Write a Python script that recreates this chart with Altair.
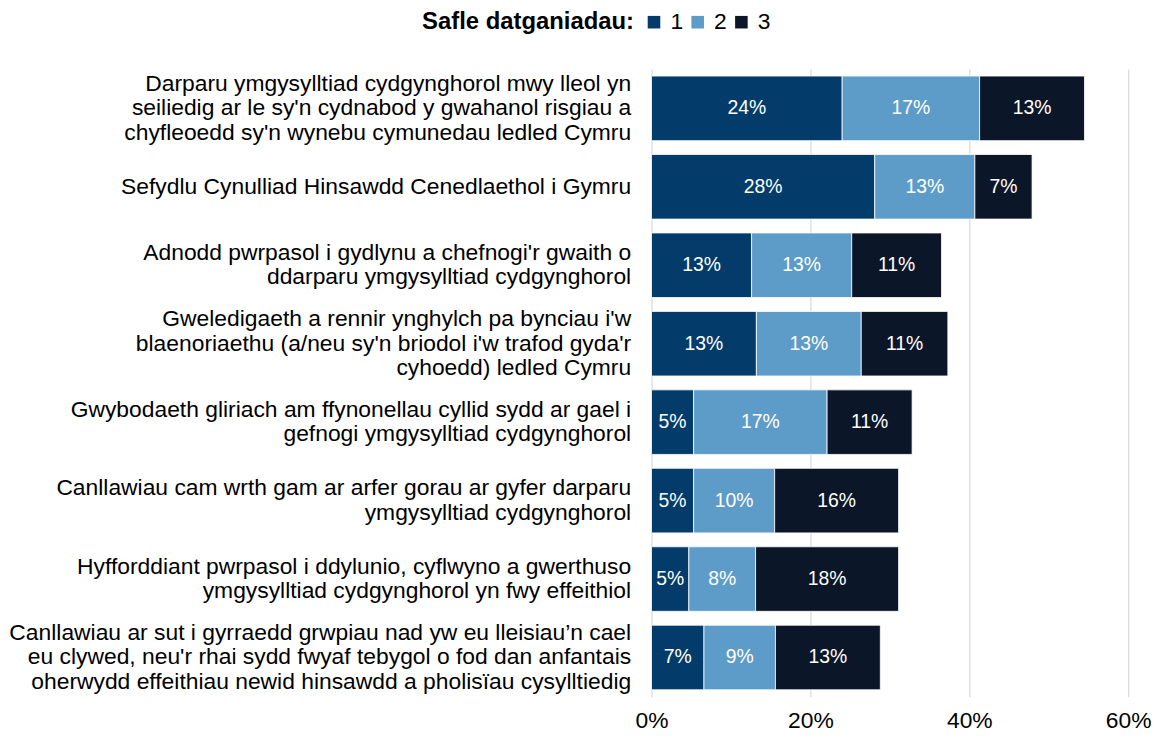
import altair as alt
import pandas as pd

categories = [
    "Darparu ymgysylltiad cydgynghorol mwy lleol yn\nseiliedig ar le sy'n cydnabod y gwahanol risgiau a\nchyfleoedd sy'n wynebu cymunedau ledled Cymru",
    "Sefydlu Cynulliad Hinsawdd Cenedlaethol i Gymru",
    "Adnodd pwrpasol i gydlynu a chefnogi'r gwaith o\nddarparu ymgysylltiad cydgynghorol",
    "Gweledigaeth a rennir ynghylch pa bynciau i'w\nblaenoriaethu (a/neu sy'n briodol i'w trafod gyda'r\ncyhoedd) ledled Cymru",
    "Gwybodaeth gliriach am ffynonellau cyllid sydd ar gael i\ngefnogi ymgysylltiad cydgynghorol",
    "Canllawiau cam wrth gam ar arfer gorau ar gyfer darparu\nymgysylltiad cydgynghorol",
    "Hyfforddiant pwrpasol i ddylunio, cyflwyno a gwerthuso\nymgysylltiad cydgynghorol yn fwy effeithiol",
    "Canllawiau ar sut i gyrraedd grwpiau nad yw eu lleisiau\u2019n cael\neu clywed, neu'r rhai sydd fwyaf tebygol o fod dan anfantais\noherwydd effeithiau newid hinsawdd a pholis\u00efau cysylltiedig",
]

rank1 = [24.0, 28.1, 12.6, 13.2, 5.3, 5.3, 4.7, 6.6]
rank2 = [17.3, 12.6, 12.6, 13.2, 16.8, 10.2, 8.4, 9.0]
rank3 = [13.2, 7.2, 11.3, 10.9, 10.7, 15.6, 18.0, 13.2]

ranks = ["1", "2", "3"]
colors = ["#033c6b", "#5d9bc8", "#0b1728"]
x_ticks = [0, 0.2, 0.4, 0.6]

FONT = "Liberation Sans"
LINE_H = 24.5

rows = []
for i, c in enumerate(categories):
    for r, vals in zip(ranks, [rank1, rank2, rank3]):
        rows.append({"cat": c, "rank": r, "value": vals[i] / 100.0})
df = pd.DataFrame(rows)

base = alt.Chart(df).transform_stack(
    stack="value",
    groupby=["cat"],
    as_=["v0", "v1"],
    sort=[alt.SortField("rank", order="ascending")],
).transform_calculate(mid="(datum.v0 + datum.v1) / 2")

nlines = "length(split(datum.value, '\\n'))"

y_axis = alt.Axis(
    title=None,
    labelExpr="split(datum.label, '\\n')",
    labelFont=FONT,
    labelFontSize=23,
    labelLineHeight=LINE_H,
    labelColor="black",
    labelAlign="right",
    labelBaseline="middle",
    labelPadding=21,
    labelLimit=800,
    labelOffset={
        "condition": [
            {"test": nlines + " == 3", "value": -LINE_H},
            {"test": nlines + " == 2", "value": -LINE_H / 2},
        ],
        "value": 0,
    },
    ticks=False,
    domain=False,
    grid=False,
)

y_scale = alt.Scale(paddingInner=0.177, paddingOuter=0.0885)

x_scale = alt.Scale(domain=[0, 0.6], nice=False)

bars = base.mark_bar(stroke="white", strokeWidth=0.8).encode(
    y=alt.Y("cat:N", sort=categories, scale=y_scale, axis=y_axis),
    x=alt.X(
        "v0:Q",
        scale=x_scale,
        axis=alt.Axis(
            title=None,
            values=x_ticks,
            format=".0%",
            labelFont=FONT,
            labelFontSize=23,
            labelColor="black",
            labelPadding=13,
            labelBaseline="top",
            labelFlush=False,
            ticks=False,
            domain=False,
            grid=True,
            gridColor="#d9d9d9",
            gridWidth=1.2,
        ),
    ),
    x2="v1:Q",
    color=alt.Color(
        "rank:N",
        scale=alt.Scale(domain=ranks, range=colors),
        legend=alt.Legend(
            title="Safle datganiadau:",
            orient="none",
            legendX=-231,
            legendY=-59,
            direction="horizontal",
            titleOrient="left",
            titleFont=FONT,
            titleFontSize=24,
            titleFontWeight="bold",
            titleColor="black",
            titleLimit=500,
            titlePadding=8,
            labelFont=FONT,
            labelFontSize=23,
            labelColor="black",
            labelOffset=5,
            columnPadding=3,
            symbolType="square",
            symbolSize=160,
            symbolStrokeWidth=0,
            symbolOpacity=1,
            padding=0,
        ),
    ),
    order=alt.Order("rank:N"),
)

labels = base.mark_text(color="white", fontSize=19.5, font=FONT).encode(
    y=alt.Y("cat:N", sort=categories, scale=y_scale, axis=y_axis),
    x=alt.X("mid:Q", scale=x_scale),
    text=alt.Text("value:Q", format=".0%"),
)

chart = (
    alt.layer(bars, labels)
    .properties(
        width=480,
        height=632,
        autosize=alt.AutoSizeParams(type="none"),
        padding={"left": 648, "top": 59, "right": 27, "bottom": 38},
        background="white",
    )
    .configure_view(stroke=None)
)

chart.save("out.html", embed_options={"renderer": "svg", "actions": False})
